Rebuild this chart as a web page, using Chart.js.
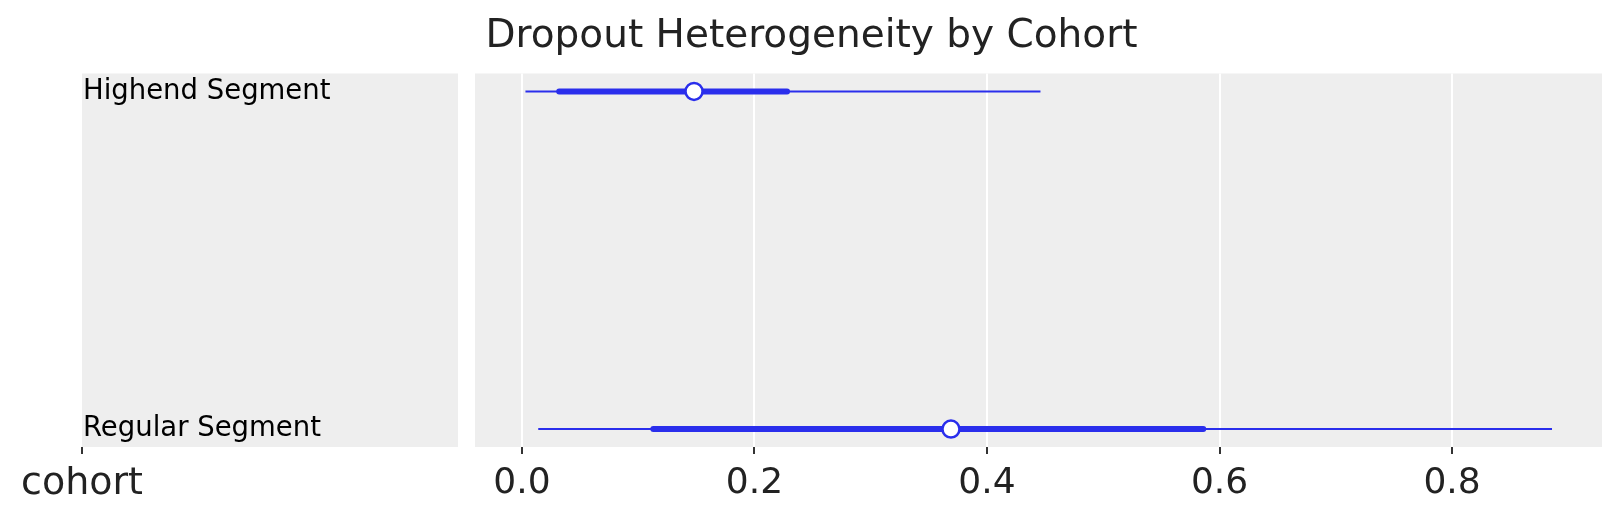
<!DOCTYPE html>
<html>
<head>
<meta charset="utf-8">
<script src="https://cdn.jsdelivr.net/npm/chart.js@4.4.1/dist/chart.umd.min.js"></script>
<style>
  body { margin: 0; background: #fff; }
  canvas { display: block; }
</style>
</head>
<body>
<canvas id="forest" width="1623" height="523"></canvas>
<script>
// forest plot data (posterior of dropout heterogeneity per cohort)
const cohorts = ["Highend Segment", "Regular Segment"];
const rowPos = [1, 0];
const hdiLow = [0.003, 0.014];
const hdiHigh = [0.446, 0.886];
const iqrLow = [0.032, 0.113];
const iqrHigh = [0.228, 0.586];
const medians = [0.148, 0.369];
const xTicks = [0, 0.2, 0.4, 0.6, 0.8];
const axisLabel = "cohort";
const titleText = "Dropout Heterogeneity by Cohort";

const BLUE = "#2a2eec";
const PANEL = "#eeeeee";

// gray panels, figure title and the left "cohort" axis
const panelPlugin = {
  id: "panels",
  beforeDraw(chart) {
    const { ctx, chartArea } = chart;
    const yScale = chart.scales.y;
    const leftX = yScale.left - 1;
    const leftEnd = chartArea.left - 17;
    ctx.save();
    ctx.fillStyle = PANEL;
    ctx.fillRect(chartArea.left, chartArea.top, chartArea.right - chartArea.left, chartArea.bottom - chartArea.top);
    ctx.fillRect(leftX, chartArea.top, leftEnd - leftX, chartArea.bottom - chartArea.top);
    ctx.restore();
  },
  afterDraw(chart) {
    const { ctx, chartArea } = chart;
    const x0 = chart.scales.y.left - 1;
    ctx.save();
    // title is centred on the whole figure, not on the plot
    ctx.fillStyle = "#222";
    ctx.font = "39px 'DejaVu Sans'";
    ctx.textAlign = "center";
    ctx.textBaseline = "middle";
    ctx.fillText(titleText, chart.width / 2, 37);

    ctx.strokeStyle = "#333";
    ctx.lineWidth = 2;
    ctx.beginPath();
    ctx.moveTo(x0, chartArea.bottom);
    ctx.lineTo(x0, chartArea.bottom + 7);
    ctx.stroke();
    ctx.font = "38px 'DejaVu Sans'";
    ctx.fillText(axisLabel, x0, chartArea.bottom + 37);
    ctx.restore();
  },
};

const datasets = [];
cohorts.forEach((c, i) => {
  datasets.push({
    label: c + " median",
    data: [{ x: medians[i], y: rowPos[i] }],
    pointRadius: 8.5,
    pointBackgroundColor: "#ffffff",
    pointBorderColor: BLUE,
    pointBorderWidth: 2.5,
    showLine: false,
    order: 0,
  });
  datasets.push({
    label: c + " iqr",
    data: [{ x: iqrLow[i], y: rowPos[i] }, { x: iqrHigh[i], y: rowPos[i] }],
    borderColor: BLUE,
    borderWidth: 6,
    borderCapStyle: "round",
    pointRadius: 0,
    showLine: true,
    order: 1,
  });
  datasets.push({
    label: c + " hdi",
    data: [{ x: hdiLow[i], y: rowPos[i] }, { x: hdiHigh[i], y: rowPos[i] }],
    borderColor: BLUE,
    borderWidth: 2,
    pointRadius: 0,
    showLine: true,
    order: 2,
  });
});

new Chart(document.getElementById("forest"), {
  type: "scatter",
  data: { datasets },
  plugins: [panelPlugin],
  options: {
    responsive: false,
    animation: false,
    layout: { padding: { left: 83, right: 21, top: 73.5, bottom: 0 } },
    plugins: {
      legend: { display: false },
      tooltip: { enabled: false },
      title: { display: false },
    },
    scales: {
      x: {
        type: "linear",
        min: -0.0404,
        max: 0.929,
        border: { display: false },
        grid: {
          color: "#ffffff",
          lineWidth: 2,
          drawTicks: true,
          tickLength: 7,
          tickWidth: 2,
          tickColor: "#333",
        },
        ticks: {
          color: "#222",
          font: { family: "'DejaVu Sans'", size: 36 },
          padding: 8,
          maxRotation: 0,
          callback: v => v.toFixed(1),
        },
        afterBuildTicks: s => { s.ticks = xTicks.map(v => ({ value: v })); },
        afterFit: s => { s.height = 76; },
      },
      y: {
        type: "linear",
        min: -0.053,
        max: 1.053,
        border: { display: false },
        grid: { display: false },
        ticks: {
          color: "#000",
          font: { family: "'DejaVu Sans'", size: 27.5 },
          crossAlign: "far",
          padding: 0,
          callback: v => cohorts[rowPos.indexOf(v)],
        },
        afterBuildTicks: s => { s.ticks = rowPos.map(v => ({ value: v })); },
        afterFit: s => { s.width = 392; },
      },
    },
  },
});
</script>
</body>
</html>
